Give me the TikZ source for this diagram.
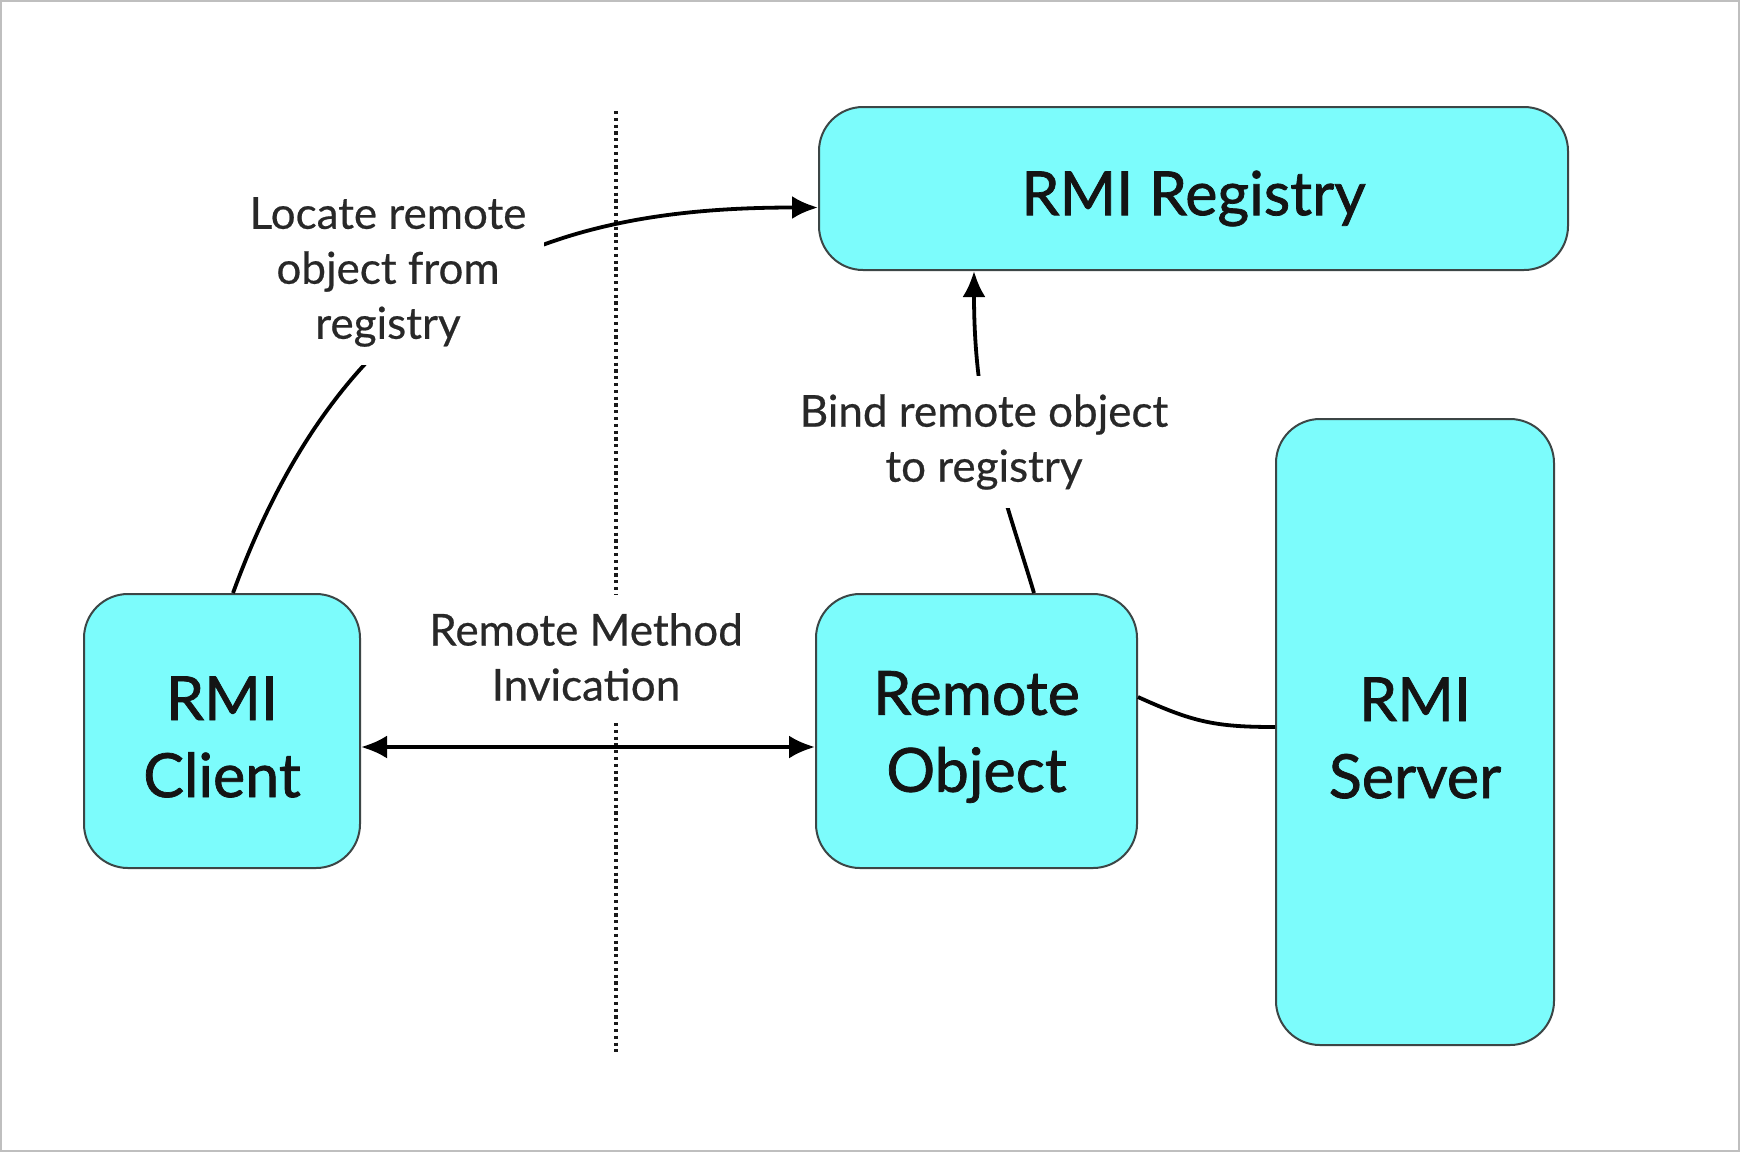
\documentclass[tikz,border=0pt]{standalone}
\usepackage{fontspec}
\setmainfont{Lato}
\newfontfamily\boxfont[FakeBold=1.2]{Lato}
\newfontfamily\notefont[FakeBold=0.5]{Lato}
\usetikzlibrary{arrows.meta}
\definecolor{boxcyan}{RGB}{124,252,252}
\definecolor{boxline}{RGB}{60,70,70}
\definecolor{labeltext}{RGB}{40,40,40}
\begin{document}
\begin{tikzpicture}[x=0.5pt,y=-0.5pt,
  rmibox/.style={draw=boxline, line width=1pt, fill=boxcyan, rounded corners=22pt, inner sep=0pt},
  boxtext/.style={align=center, inner sep=0pt, font=\boxfont\fontsize{30.5}{38.5}\selectfont, text=black!92},
  note/.style={fill=white, align=center, inner sep=9pt, text=labeltext,
    font=\notefont\fontsize{22}{27.5}\selectfont},
  link/.style={line width=1.9pt, black},
  tip/.style={-{Latex[length=13pt,width=11.5pt]}},
]
\useasboundingbox (0,0) rectangle (1740,1152);
\fill[white] (0,0) rectangle (1740,1152);
\draw[black!25, line width=1pt] (1,1) rectangle (1739,1151);

% dotted boundary between client and server side
\coordinate (sepTop) at (616,111);
\coordinate (sepBot) at (616,1052);
\draw[line width=1.7pt, black!90, dash pattern=on 1.6pt off 1.8pt] (sepTop) -- (sepBot);

% components
\node[rmibox, minimum width=374.5pt, minimum height=81.5pt,
  label={[boxtext, yshift=-5pt]center:RMI Registry}] (registry) at (1193.5,188.5) {};
\node[rmibox, minimum width=138pt, minimum height=137pt,
  label={[boxtext, yshift=-3pt]center:RMI\\Client}] (client) at (222,731) {};
\node[rmibox, minimum width=160.5pt, minimum height=137pt,
  label={[boxtext, yshift=-3pt]center:Remote\\Object}] (remote) at (976.5,731) {};
\node[rmibox, minimum width=139pt, minimum height=313pt,
  label={[boxtext, yshift=-3pt]center:RMI\\Server}] (server) at (1415,732) {};

% connectors
\draw[link, tip] ([xshift=5.5pt]client.north) .. controls +(120,-329) and +(-250,0) .. ([yshift=-9.5pt]registry.west);
\draw[link, tip] ([xshift=28.75pt]remote.north) .. controls +(-30,-100) and +(0,150) .. ([xshift=-109.75pt]registry.south);
\draw[link] ([yshift=17pt]remote.east) .. controls +(55,25) and +(-60,0) .. ([yshift=2.5pt]server.west);
\draw[link, {Latex[length=13pt,width=11.5pt]}-{Latex[length=13pt,width=11.5pt]}] ([yshift=-8pt]client.east) -- ([yshift=-8pt]remote.west);

% connector labels
\node[note] (locate) at (388,272) {Locate remote\\object from\\registry};
\node[note] (bind) at (984,442) {Bind remote object\\to registry};
\node[note] (rmi) at (586,657) {Remote Method\\Invication};
\end{tikzpicture}
\end{document}
